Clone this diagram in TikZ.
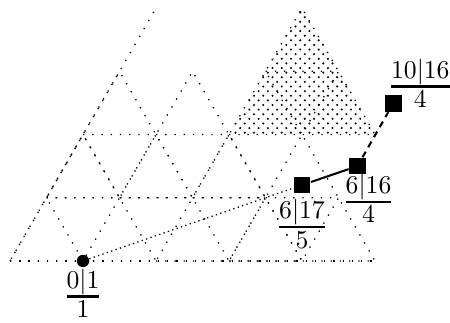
\documentclass[tikz,border=0pt]{standalone}
\usepackage{amsmath}
\usepackage{tikz}
\usetikzlibrary{
  positioning,
  patterns
}
% staggered dots, a little looser than crosshatch dots
\pgfdeclarepatternformonly{trdots}{\pgfqpoint{-1pt}{-1pt}}{\pgfqpoint{4.6pt}{4.6pt}}{\pgfqpoint{3.6pt}{3.6pt}}{
  \pgfpathcircle{\pgfqpoint{0pt}{0pt}}{.45pt}
  \pgfpathcircle{\pgfqpoint{1.8pt}{1.8pt}}{.45pt}
  \pgfusepath{fill}
}
\newcommand{\trfrac}[2]{{\setlength{\arrayrulewidth}{1pt}\renewcommand{\arraystretch}{0.75}%
  \begin{tabular}{@{}c@{}}$#1$\\\hline\rule{0pt}{7.7pt}$#2$\end{tabular}}}
\tikzset{
  trgrid/.style={line width=0.5pt, dash pattern=on 0.5pt off 3.1pt},
  trfill/.style={pattern=trdots},
  startdot/.style={circle, fill=black, inner sep=0pt, minimum size=4.8pt},
  visit/.style={rectangle, fill=black, inner sep=0pt, minimum size=6.5pt},
  trlabel/.style={inner sep=1pt, font=\normalsize},
  jump/.style={line width=0.5pt, dash pattern=on 0.5pt off 1.3pt},
  step-move/.style={line width=0.8pt},
  try-move/.style={line width=0.8pt, dash pattern=on 2.5pt off 2pt}
}

\begin{document}
\begin{tikzpicture}[node distance=2pt]
  \useasboundingbox (-0.137,-0.836) rectangle (6.027,3.575);
  % shaded triangle
  \fill[trfill] (3,1.732) -- ++(2,0) -- ++(-1,1.732) -- cycle;
  % axes
  \draw[trgrid] (0,0) -- (5,0);
  \draw[trgrid] (0,0) -- (2,3.464);
  % subdivided triangles
  \foreach \a/\b in {0/0, 0.5/1, 1.5/1, 2/0, 3/0, 3/2} {
    \draw[trgrid] (\a,\b*0.866) -- ++(2,0) -- ++(-1,1.732) -- cycle;
    \draw[trgrid] (\a+0.5,\b*0.866+0.866) -- ++(1,0) -- (\a+1,\b*0.866) -- cycle;
  }

  \node[startdot] (s0) at (1,0) {};
  \node[visit] (q1) at (4.0,1.04) {};
  \node[visit] (q2) at (4.76,1.30) {};
  \node[visit] (q3) at (5.25,2.16) {};

  \node[trlabel, below=-0.6pt of s0] (l0) {\trfrac{0|1}{1}};
  \node[trlabel, below=1pt of q1] (l1) {\trfrac{6|17}{5}};
  \node[trlabel, below=-1.4pt of q2, xshift=4.3pt] (l2) {\trfrac{6|16}{4}};
  \node[trlabel, right=-5.5pt of q3, yshift=6.4pt] (l3) {\trfrac{10|16}{4}};

  \draw[jump] (s0) -- (q1);
  \draw[step-move] (q1) -- (q2);
  \draw[try-move] (q2) -- (q3);
\end{tikzpicture}
\end{document}
